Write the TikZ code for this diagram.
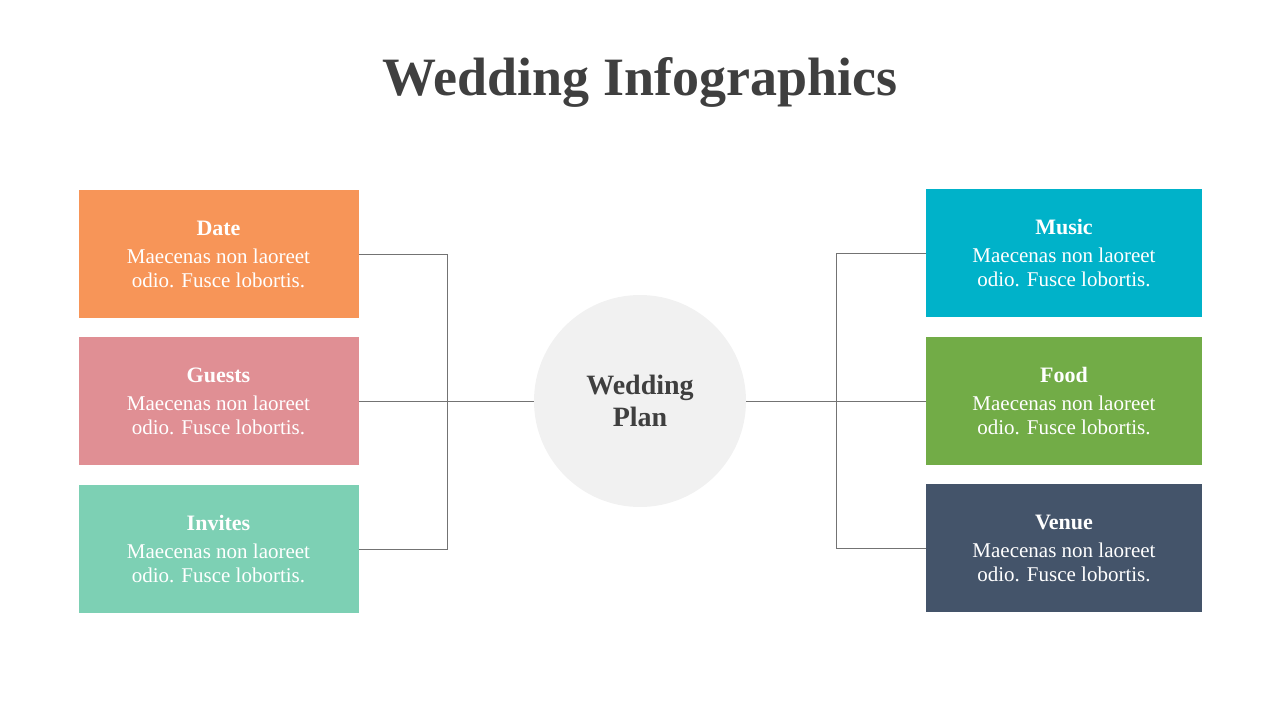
\documentclass[tikz,border=0pt]{standalone}
\usepackage{fontspec}
\setmainfont{Liberation Serif}
\definecolor{corange}{HTML}{F79558}
\definecolor{cpink}{HTML}{E08F94}
\definecolor{cmint}{HTML}{7DD0B4}
\definecolor{cteal}{HTML}{00B2C9}
\definecolor{cgreen}{HTML}{72AC47}
\definecolor{cnavy}{HTML}{44546A}
\definecolor{ctext}{HTML}{3F3F3F}
\definecolor{ccirc}{HTML}{F1F1F1}
\begin{document}
\begin{tikzpicture}[x=1pt,y=-1pt,
 card/.style={minimum width=280pt,minimum height=128pt,inner sep=0pt,text=white,align=center,font=\fontsize{21}{23.5}\selectfont},
 link/.style={draw=gray!90!black,line width=0.8pt}]
\useasboundingbox (0,0) rectangle (1280,720);
\node[text=ctext,font=\bfseries\fontsize{54}{60}\selectfont] (title) at (640,82) {Wedding Infographics};
\newcommand{\cardtext}[1]{{\bfseries\fontsize{22}{25}\selectfont #1}\\[5pt]Maecenas non laoreet\\odio. Fusce lobortis.}
\node[card,fill=corange] (date) at (218.5,254) {\cardtext{Date}};
\node[card,fill=cpink] (guests) at (218.5,401) {\cardtext{Guests}};
\node[card,fill=cmint] (invites) at (218.5,549) {\cardtext{Invites}};
\node[card,fill=cteal,minimum width=276pt] (music) at (1064,253) {\cardtext{Music}};
\node[card,fill=cgreen,minimum width=276pt] (food) at (1064,401) {\cardtext{Food}};
\node[card,fill=cnavy,minimum width=276pt] (venue) at (1064,548) {\cardtext{Venue}};
\node[circle,fill=ccirc,minimum size=212pt,text=ctext,align=center,font=\bfseries\fontsize{28}{32}\selectfont] (plan) at (640,401) {Wedding\\Plan};
\coordinate (lj) at (447,401);
\coordinate (rj) at (836,401);
\draw[link] (date.east) -| (lj);
\draw[link] (invites.east) -| (lj);
\draw[link] (guests.east) -- (plan.west);
\draw[link] (music.west) -| (rj);
\draw[link] (venue.west) -| (rj);
\draw[link] (food.west) -- (plan.east);
\end{tikzpicture}
\end{document}
